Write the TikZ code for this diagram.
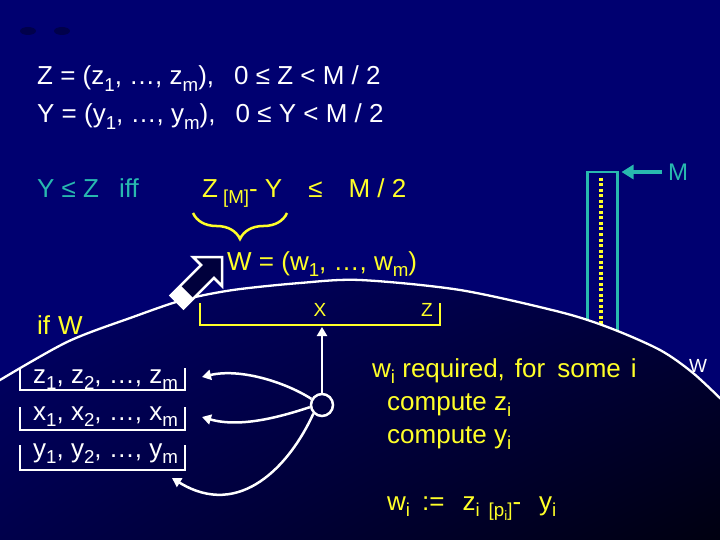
\documentclass[tikz,border=0pt]{standalone}
\usepackage{fontspec}
\setmainfont{Liberation Sans}
\usetikzlibrary{arrows.meta,decorations.pathreplacing,shapes.geometric,shadings}
\definecolor{bg}{RGB}{0,0,112}
\definecolor{ylw}{RGB}{255,255,40}
\definecolor{tl}{RGB}{40,185,175}
\definecolor{dk}{RGB}{0,0,60}
\definecolor{sul}{RGB}{0,0,105}
\definecolor{sur}{RGB}{0,0,60}
\definecolor{sll}{RGB}{0,0,75}
\definecolor{slr}{RGB}{0,0,15}
\newcommand\lo[1]{\raisebox{-0.24em}{\scalebox{0.72}{#1}}}
\begin{document}
\begin{tikzpicture}[x=1pt,y=-1pt,
  txt/.style={anchor=base west,inner sep=0pt,font=\fontsize{26}{30}\selectfont},
  lbl/.style={inner sep=0pt,font=\fontsize{19}{22}\selectfont},
  wline/.style={draw=white,line width=2.5pt},
  warr/.style={draw=white,line width=2.5pt,-{Triangle[length=9pt,width=10pt]}},
  yline/.style={draw=ylw,line width=2.5pt}]
\useasboundingbox (0,0) rectangle (720,540);
\fill[bg] (0,0) rectangle (720,540);
% faint blobs
\fill[dk,opacity=0.7] (28,31) ellipse (8pt and 4pt);
\fill[dk,opacity=0.7] (62,31) ellipse (8pt and 4pt);
% memory column
\node[draw=tl,line width=2.5pt,minimum width=30pt,minimum height=175pt,anchor=north west,inner sep=0pt] (mem) at (586,171) {};
\draw[ylw,line width=4pt,dash pattern=on 3pt off 2.5pt] (601,178) -- (601,330);
% region under the curve
\shade[upper left=sul,upper right=sur,lower left=sll,lower right=slr]
  plot[smooth] coordinates {(-5,383) (67,342) (133,317) (183,300) (233,290) (300,283) (360,280) (460,290) (560,312) (610,328) (660,350) (693,373) (725,403)}
  -- (725,545) -- (-5,545) -- cycle;
\draw[white,line width=2.3pt] plot[smooth] coordinates {(-5,383) (67,342) (133,317) (183,300) (233,290) (300,283) (360,280) (460,290) (560,312) (610,328) (660,350) (693,373) (725,403)};
% texts top
\node[txt,white] (l1) at (37,85) {Z = (z\lo{1}, …, z\lo{m}),\hspace{20pt}0 ≤ Z < M / 2};
\node[txt,white] (l2) at (37,123) {Y = (y\lo{1}, …, y\lo{m}),\hspace{20pt}0 ≤ Y < M / 2};
\node[txt,tl] (iff) at (37,197) {Y ≤ Z\hspace{20pt}iff};
\node[txt,ylw] (cond) at (202,197) {Z\hspace{5pt}\lo{[M]}- Y\hspace{26pt}≤\hspace{26pt}M / 2};
\draw[yline,decorate,decoration={brace,amplitude=26pt,mirror}] (193,213) -- (287,213);
\node[txt,ylw] (weq) at (227,270) {W = (w\lo{1}, …, w\lo{m})};
% M label and arrow
\node[lbl,tl,font=\fontsize{24}{26}\selectfont] (Mlab) at (678,172) {M};
\coordinate (mtail) at (662,172);
\draw[tl,line width=4pt,-{Triangle[length=12pt,width=14pt]}] (mtail) -- ([xshift=3pt,yshift=-1pt]mem.north east);
% block arrow
\filldraw[fill=dk,draw=white,line width=2.5pt,line join=miter]
  (201.1,265.1) -- (193,257) -- (222,257) -- (222,286) -- (213.9,277.9) -- (183.5,308.3) -- (170.7,295.5) -- cycle;
\fill[white] (180.6,285.6) -- (193.4,298.4) -- (183.5,308.3) -- (170.7,295.5) -- cycle;
% X Z bracket
\draw[yline] (200,303) |- (440,325) -- (440,303);
\coordinate (xzb) at (322,327);
\node[lbl,ylw] (xl) at (320,310) {X};
\node[lbl,ylw] (zl) at (427,310) {Z};
\node[txt,ylw] (ifw) at (37,334) {if\hspace{8pt}W};
% rows
\node[txt,white] (rz) at (33,383) {z\lo{1}, z\lo{2}, …, z\lo{m}};
\node[txt,white] (rx) at (33,420) {x\lo{1}, x\lo{2}, …, x\lo{m}};
\node[txt,white] (ry) at (33,457) {y\lo{1}, y\lo{2}, …, y\lo{m}};
\draw[wline] (20,368) |- (185,390) -- (185,368);
\draw[wline] (20,407) |- (185,430) -- (185,407);
\draw[wline] (20,445) |- (185,470) -- (185,445);
\coordinate (tz) at (202,377);
\coordinate (tx) at (202,417);
\coordinate (ty) at (172,478);
% circle and arrows
\node[circle,draw=white,line width=2.5pt,minimum size=22pt,inner sep=0pt] (c) at (322,405) {};
\draw[warr] (c.north) -- (xzb);
\draw[warr] (c.150) .. controls (285,382) and (240,368) .. (tz);
\draw[warr] (c.190) .. controls (280,417) and (240,428) .. (tx);
\draw[warr] (c.225) .. controls (290,465) and (240,520) .. (ty);
% right texts
\node[txt,ylw] (req) at (372,377) {w\lo{i} required,\hspace{10pt}for\hspace{12pt}some\hspace{10pt}i};
\node[txt,ylw] (cz) at (387,410) {compute z\lo{i}};
\node[txt,ylw] (cy) at (387,443) {compute y\lo{i}};
\node[txt,ylw] (wi) at (387,510) {w\lo{i}\hspace{12pt}:=\hspace{18pt}z\lo{i}\hspace{9pt}\lo{[p\lo{i}]}-\hspace{18pt}y\lo{i}};
\node[lbl,white] (wr) at (698,366) {W};
\end{tikzpicture}
\end{document}
